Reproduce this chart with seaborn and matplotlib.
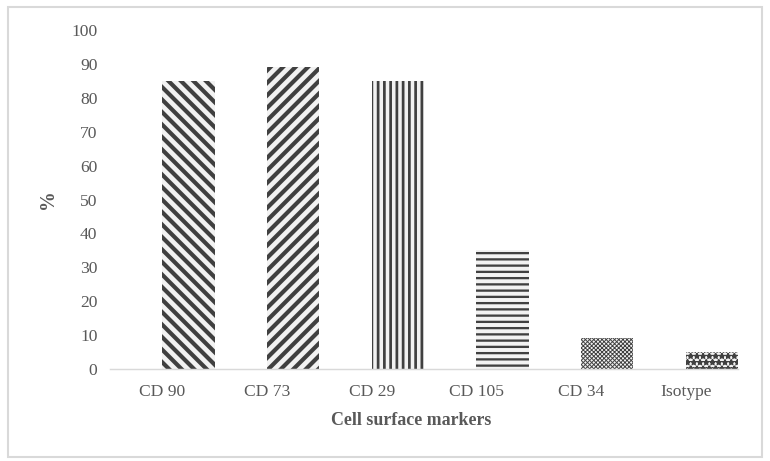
import seaborn as sns
import pandas as pd
import matplotlib.pyplot as plt
from matplotlib.patches import Rectangle

# Values
markers = ['CD 90', 'CD 73', 'CD 29', 'CD 105', 'CD 34', 'Isotype']
percent = [85, 89, 85, 35, 9, 5]
hatches = ['\\\\\\\\', '////', '||||', '----', 'xxxxxxxxxxxx', '****']
hatch_widths = [2.0, 2.0, 1.3, 1.1, 0.45, 0.8]

sns.set_style('white')
plt.rcParams['font.family'] = ['Liberation Serif', 'DejaVu Serif']
plt.rcParams['hatch.color'] = '#404040'


def bar_chart(df):
    fig = plt.figure(figsize=(770 / 150, 461 / 150), dpi=150)
    ax = fig.add_axes([110 / 770, 1 - 369 / 461, 628 / 770, 339 / 461])

    sns.barplot(x='marker', y='percent', data=df, order=markers,
                hue='marker', palette=['#f2f2f2'] * len(markers),
                legend=False, width=0.5, ax=ax)

    # Excel-style: bars start at the category centre, patterned fill
    for p, h, lw in zip(ax.patches, hatches, hatch_widths):
        p.set_x(p.get_x() + p.get_width() / 2)
        p.set_hatch(h)
        p.set_edgecolor('#404040')
        p.set_linewidth(0)
        if hasattr(p, 'set_hatch_linewidth'):
            p.set_hatch_linewidth(lw)

    ax.set_ylim(0, 100)
    ax.set_yticks(range(0, 101, 10))
    ax.tick_params(axis='both', length=0, colors='#595959', labelsize=8.4)
    ax.tick_params(axis='y', pad=6)
    ax.tick_params(axis='x', pad=7)
    for side in ['left', 'right', 'top']:
        ax.spines[side].set_visible(False)
    ax.spines['bottom'].set_color('#d9d9d9')
    ax.spines['bottom'].set_linewidth(0.7)

    ax.set_xlabel('Cell surface markers', fontsize=8.6, fontweight='bold',
                  color='#595959')
    ax.xaxis.set_label_coords(0.479, -0.128)
    ax.set_ylabel('%', fontsize=9.5, fontweight='bold', color='#595959')
    ax.yaxis.set_label_coords(-0.083, 0.5)

    # light grey chart border
    fig.patches.append(Rectangle((8 / 770, 4 / 461), 754 / 770, 450 / 461,
                                 transform=fig.transFigure, fill=False,
                                 edgecolor='#d9d9d9', linewidth=1.0))

    fig.savefig('out.png', dpi=150)


def main():
    df = pd.DataFrame({'marker': markers, 'percent': percent})
    bar_chart(df)


if __name__ == '__main__':
    main()
